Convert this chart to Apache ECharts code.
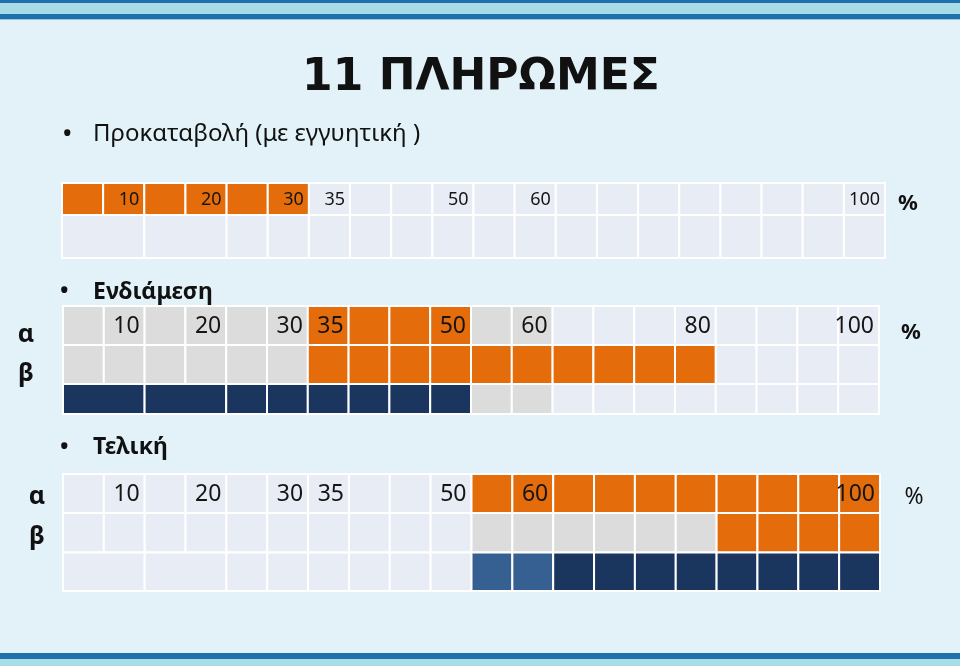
<!DOCTYPE html>
<html><head><meta charset="utf-8">
<script src="https://cdn.jsdelivr.net/npm/echarts@6/dist/echarts.min.js"></script>
<style>html,body{margin:0;padding:0;background:#e2f2f8}#c{width:960px;height:666px}</style>
</head><body><div id="c"></div><script>
// ---------- DATA ----------
const titleText = '11 ΠΛΗΡΩΜΕΣ';
const sectionNames = ['Προκαταβολή (με εγγυητική )', 'Ενδιάμεση', 'Τελική'];
const rowNames = ['α', 'β'];
const unitLabel = '%';
const colStep = 5;                       // each cell = 5 %
const mergedSpans = [[0, 10], [10, 20]]; // first cells of merged rows
// tick labels written in the first row of each table
const ticks1 = [10, 20, 30, 35, 50, 60, 100];
const ticks2 = [10, 20, 30, 35, 50, 60, 80, 100];
const ticks3 = [10, 20, 30, 35, 50, 60, 100];
// filled ranges per row: [from %, to %, colour key]
const fills1 = [[[0, 30, 'orange']], []];
const fills2 = [
  [[0, 30, 'gray'], [30, 50, 'orange'], [50, 60, 'gray']],
  [[0, 30, 'gray'], [30, 80, 'orange']],
  [[0, 50, 'navy'], [50, 60, 'gray']]
];
const fills3 = [
  [[50, 100, 'orange']],
  [[50, 80, 'gray'], [80, 100, 'orange']],
  [[50, 60, 'steel'], [60, 100, 'navy']]
];
const mergedRow1 = 1, mergedRow2 = 2, mergedRow3 = 2;

// ---------- STYLE / LAYOUT ----------
const palette = { light: '#e8ecf4', orange: '#e46c0a', gray: '#dcdcdc', navy: '#1b365e', steel: '#366092' };
const FONT = "'Noto Sans', sans-serif";
const tables = [
  { left: 62, top: 183, width: 823, rows: [32, 43], font: 18, pad: 5, ticks: ticks1, fills: fills1, merged: mergedRow1 },
  { left: 63, top: 306, width: 816, rows: [39, 39, 30], font: 23, pad: 5, ticks: ticks2, fills: fills2, merged: mergedRow2 },
  { left: 63, top: 474, width: 817, rows: [39, 39.5, 38.5], font: 23, pad: 5, ticks: ticks3, fills: fills3, merged: mergedRow3 }
];

function buildCells(t) {
  const cells = [];
  t.fills.forEach((rowFills, r) => {
    let spans = [];
    let start = 0;
    if (r === t.merged) { spans = mergedSpans.slice(); start = mergedSpans[mergedSpans.length - 1][1]; }
    for (let x = start; x < 100; x += colStep) spans.push([x, x + colStep]);
    spans.forEach(([a, b]) => {
      const mid = (a + b) / 2;
      const f = rowFills.find(s => mid > s[0] && mid < s[1]);
      const label = (r === 0 && t.ticks.indexOf(b) >= 0) ? String(b) : '';
      cells.push({ value: [a, b, r], colour: f ? f[2] : 'light', label });
    });
  });
  return cells;
}

const grid = [], xAxis = [], yAxis = [], series = [];
tables.forEach((t, i) => {
  const H = t.rows.reduce((s, v) => s + v, 0);
  grid.push({ left: t.left, top: t.top, width: t.width, height: H });
  xAxis.push({ type: 'value', gridIndex: i, min: 0, max: 100, show: false });
  yAxis.push({ type: 'value', gridIndex: i, min: 0, max: H, inverse: true, show: false });
  const cells = buildCells(t);
  series.push({
    type: 'custom', xAxisIndex: i, yAxisIndex: i, clip: false, silent: true,
    data: cells.map(c => c.value),
    renderItem: (params, api) => {
      const x0 = api.value(0), x1 = api.value(1), r = api.value(2);
      let y0 = 0; for (let k = 0; k < r; k++) y0 += t.rows[k];
      const y1 = y0 + t.rows[r];
      const p = api.coord([x0, y0]), q = api.coord([x1, y1]);
      const c = cells[params.dataIndex];
      const children = [{
        type: 'rect',
        shape: { x: p[0], y: p[1], width: q[0] - p[0], height: q[1] - p[1] },
        style: { fill: palette[c.colour], stroke: '#ffffff', lineWidth: 2 }
      }];
      if (c.label) children.push({
        type: 'text',
        style: { text: c.label, x: q[0] - t.pad, y: (p[1] + q[1]) / 2 + 1, align: 'right', verticalAlign: 'middle',
                 font: t.font + 'px ' + FONT, fill: '#151515' }
      });
      return { type: 'group', children };
    }
  });
});

function txt(text, x, y, size, weight, align, family) {
  return { type: 'text', x, y, style: { text, font: (weight || 'normal') + ' ' + size + 'px ' + (family || FONT),
           fill: '#111111', align: align || 'left', verticalAlign: 'middle' } };
}
const graphic = [
  { type: 'rect', shape: { x: 0, y: 0, width: 960, height: 3 }, style: { fill: '#2170ae' } },
  { type: 'rect', shape: { x: 0, y: 3, width: 960, height: 11 }, style: { fill: '#a9dde5' } },
  { type: 'rect', shape: { x: 0, y: 14, width: 960, height: 5 }, style: { fill: '#2170ae' } },
  { type: 'rect', shape: { x: 0, y: 19, width: 960, height: 1 }, style: { fill: '#8fcbe0' } },
  { type: 'rect', shape: { x: 0, y: 653, width: 960, height: 6 }, style: { fill: '#2170ae' } },
  { type: 'rect', shape: { x: 0, y: 659, width: 960, height: 7 }, style: { fill: '#a9dde5' } },
  txt(titleText, 481, 79, 44, 'bold', 'center', "'DejaVu Sans', sans-serif"),
  txt('•', 62, 135, 28, 'normal'),
  txt(sectionNames[0], 93, 134, 24, 'normal'),
  txt('•', 59, 292, 28, 'normal'),
  txt(sectionNames[1], 93, 292, 23, 'bold'),
  txt('•', 59, 448, 28, 'normal'),
  txt(sectionNames[2], 93, 447, 23, 'bold'),
  txt(rowNames[0], 26, 335, 25, 'bold', 'center'),
  txt(rowNames[1], 26, 374, 25, 'bold', 'center'),
  txt(rowNames[0], 37, 497, 25, 'bold', 'center'),
  txt(rowNames[1], 37, 537, 25, 'bold', 'center'),
  txt(unitLabel, 908, 204, 22, 'bold', 'center'),
  txt(unitLabel, 911, 333, 22, 'bold', 'center'),
  txt(unitLabel, 914, 497, 23, 'normal', 'center')
];

const chart = echarts.init(document.getElementById('c'), null, { renderer: 'canvas' });
chart.setOption({ backgroundColor: '#e2f2f8', animation: false, grid, xAxis, yAxis, series, graphic });
</script></body></html>
